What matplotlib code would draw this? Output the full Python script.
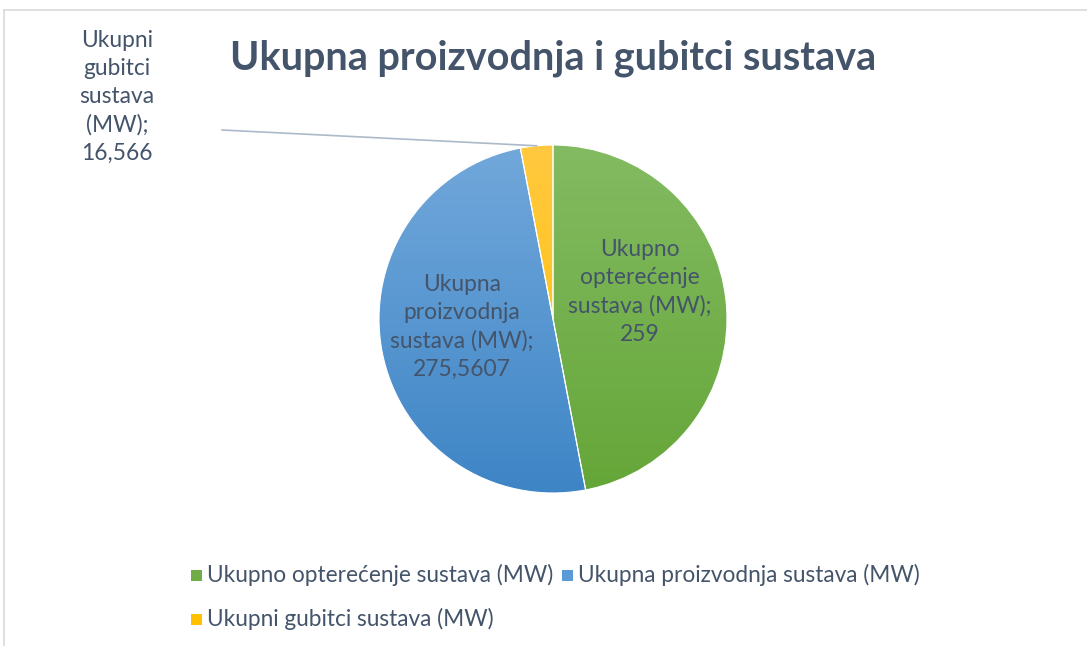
import numpy as np
import matplotlib
matplotlib.use("Agg")
import matplotlib.pyplot as plt
from matplotlib.patches import Rectangle
from matplotlib.lines import Line2D
from matplotlib.colors import LinearSegmentedColormap

# ---- data ----
categories = ["Ukupno opterećenje sustava (MW)",
              "Ukupna proizvodnja sustava (MW)",
              "Ukupni gubitci sustava (MW)"]
values = [259, 275.5607, 16.566]
value_labels = ["259", "275,5607", "16,566"]
title = "Ukupna proizvodnja i gubitci sustava"

# styles
top_colors = ["#83BB62", "#72A8DB", "#FFC940"]
bot_colors = ["#65A638", "#3E85C6", "#FFC000"]
flat_colors = ["#70AD47", "#5B9BD5", "#FFC000"]
txt_color = "#44546A"
FONT = ["Lato", "DejaVu Sans"]
LBL_SIZE = 16.4
LS = 1.42

W, H = 1087, 646
fig = plt.figure(figsize=(W / 100, H / 100), dpi=100)
fig.patch.set_facecolor("white")

def px(x, y):
    return x / W, 1 - y / H

# chart frame (left and top borders visible)
fig.add_artist(Line2D([4 / W, 4 / W], [0, 1 - 10 / H], transform=fig.transFigure,
                      color="#D9D9D9", lw=1.2))
fig.add_artist(Line2D([4 / W, 1], [1 - 10 / H, 1 - 10 / H], transform=fig.transFigure,
                      color="#D9D9D9", lw=1.2))

# pie axes
cx, cy, r = 553, 319, 174
ax = fig.add_axes([(cx - r) / W, (H - cy - r) / H, 2 * r / W, 2 * r / H])
wedges, _ = ax.pie(values, startangle=90, counterclock=False, radius=1,
                   colors=flat_colors,
                   wedgeprops=dict(edgecolor="white", linewidth=0.8))
ax.set_xlim(-1, 1)
ax.set_ylim(-1, 1)
ax.set_aspect("equal")
ax.axis("off")

# vertical gradient fill per wedge
for w, c1, c2 in zip(wedges, top_colors, bot_colors):
    cmap = LinearSegmentedColormap.from_list("g", [c2, c1])
    grad = np.linspace(0, 1, 256).reshape(-1, 1)
    im = ax.imshow(grad, extent=[-1, 1, -1, 1], origin="lower", cmap=cmap,
                   aspect="auto", zorder=w.get_zorder() + 0.1)
    im.set_clip_path(w)
    w.set_facecolor("none")
    w.set_zorder(w.get_zorder() + 0.2)

# wedge labels
fig.text(*px(640, 292), "Ukupno\nopterećenje\nsustava (MW);\n" + value_labels[0],
         ha="center", va="center", fontsize=LBL_SIZE, color=txt_color, family=FONT,
         linespacing=LS)
fig.text(*px(462, 327), "Ukupna\nproizvodnja\nsustava (MW);\n" + value_labels[1],
         ha="center", va="center", fontsize=LBL_SIZE, color=txt_color, family=FONT,
         linespacing=LS)
fig.text(*px(117, 97), "Ukupni\ngubitci\nsustava\n(MW);\n" + value_labels[2],
         ha="center", va="center", fontsize=LBL_SIZE, color=txt_color, family=FONT,
         linespacing=LS)

# leader line to the small slice
ang = np.deg2rad(90 - 360 * (values[0] + values[1] + values[2] / 2) / sum(values))
ex, ey = np.cos(ang), np.sin(ang)
fig.add_artist(Line2D([222 / W, (cx + r * ex) / W],
                      [1 - 130 / H, (H - cy + r * ey) / H],
                      transform=fig.transFigure, color="#ADB9CA", lw=1.2))

# title
fig.text(*px(553, 58), title, ha="center", va="center", fontsize=28.5,
         fontweight="bold", color=txt_color, family=FONT)

# legend
leg_items = [(196, 575, 0), (567, 575, 1), (196, 619, 2)]
for x, y, i in leg_items:
    fig.add_artist(Rectangle(px(x - 5.5, y + 5.5), 11 / W, 11 / H,
                             transform=fig.transFigure,
                             facecolor=flat_colors[i], edgecolor="none"))
    fig.text(*px(x + 11, y), categories[i], ha="left", va="center",
             fontsize=16.3, color=txt_color, family=FONT)

fig.savefig("out.png", dpi=100)
